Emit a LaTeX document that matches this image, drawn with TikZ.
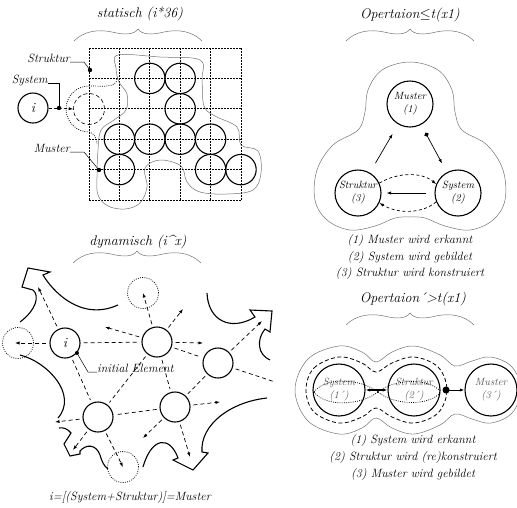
\documentclass[tikz,border=0pt]{standalone}
\usetikzlibrary{arrows.meta}
\begin{document}
\begin{tikzpicture}[x=1pt,y=-1pt,
  >={Latex[length=4.5pt,width=3.2pt]},
  ttl/.style={font=\fontsize{14}{16}\selectfont\itshape},
  lab/.style={font=\fontsize{12}{14}\selectfont\itshape, inner sep=0pt},
  thinline/.style={draw=black!55, line width=0.5pt},
  gridl/.style={dash pattern=on 2pt off 1pt, line width=0.7pt},
  dotl/.style={dash pattern=on 0.9pt off 1.3pt, line width=0.7pt},
  cell/.style={circle, draw, line width=1.1pt, minimum size=30.4pt, inner sep=0pt},
  ring/.style={circle, draw, line width=1.1pt, minimum size=30pt, inner sep=0pt,
    font=\fontsize{14}{16}\selectfont\itshape},
  ghost/.style={circle, draw, dotl, minimum size=31pt, inner sep=0pt},
  dl/.style={dash pattern=on 4pt off 3pt, line width=0.7pt, shorten <=3pt, shorten >=3pt},
  da/.style={dash pattern=on 4pt off 3pt, line width=0.7pt, shorten <=3pt, ->},
  bigl/.style={line width=1.1pt, line join=miter},
  leader/.style={line width=0.5pt},
  opc/.style={circle, draw, line width=1.1pt, minimum size=46pt, inner sep=0pt, align=center,
    font=\fontsize{10.5}{13}\selectfont\itshape},
  opd/.style={circle, draw, line width=1.1pt, minimum size=52pt, inner sep=0pt, align=center,
    font=\fontsize{10.5}{13}\selectfont\itshape, text=black!65},
  overbrace/.pic={\draw[thinline] (-64,12) .. controls (-54,2) and (-40,0) .. (-26,3)
    .. controls (-14,6) and (-4,6) .. (0,0) .. controls (4,6) and (14,6) .. (26,3)
    .. controls (40,0) and (54,2) .. (64,12);}
]
\useasboundingbox (0,0) rectangle (517,507);

% ---------- statisch ----------
\node[ttl] (t1) at (140,14) {statisch (i*36)};
\pic at (138,29) {overbrace};

\foreach \k in {0,...,5} {
  \draw[gridl] ({89+30.4*\k},48) -- ({89+30.4*\k},200);
  \draw[gridl] (89,{48+30.4*\k}) -- (241,{48+30.4*\k});
}
\foreach \cx/\cy [count=\n] in {2/1,3/1,3/2,1/3,2/3,3/3,4/3,1/4,4/4,5/4}
  \node[cell] (m\n) at ({89+30.4*\cx},{48+30.4*\cy}) {};

% pattern outline
\draw[thinline] plot[smooth cycle, tension=0.6] coordinates {(118,55) (160,57) (200,60)
  (202,80) (204,106) (215,116) (237,127) (241,145) (258,151) (261,173) (253,190)
  (227,194) (200,192) (187,182) (181,166) (160,160) (145,168) (147,187) (140,203)
  (125,209) (108,206) (98,195) (97,177) (98,150) (101,130) (114,120) (126,110)
  (127,94) (119,82) (116,68)};

\node[ring] (si) at (33,108) {i};
\node[circle, draw, dash pattern=on 4pt off 2.5pt, line width=0.6pt, minimum size=31pt,
  inner sep=0pt] (ssys) at (89,109) {};
\draw[dotl] (117,79) .. controls (116,88) and (104,86) .. (89,86)
  arc[start angle=270, end angle=90, radius=23]
  .. controls (94,133) and (97,138) .. (97,144);

\coordinate (sdot) at (59,108);
\draw[dash pattern=on 3pt off 2pt, line width=0.7pt] (si) -- (sdot);
\draw[dash pattern=on 3pt off 2pt, line width=0.7pt, ->] (sdot) -- (ssys.west);
\fill (sdot) circle (2.2);

\node[lab, anchor=base east] (lstr) at (70,62) {Struktur};
\coordinate (pstr) at (90,70);
\draw[leader] (lstr.base east) -- (84,62) -- (pstr);
\fill (pstr) circle (2.2);

\node[lab, anchor=base east] (lsys) at (48,83) {System};
\draw[leader] (lsys.base east) -- (59,83) -- (sdot);

\node[lab, anchor=base east] (lmus) at (70,152) {Muster};
\coordinate (pmus) at (99,170);
\draw[leader] (lmus.base east) -- (84,152) -- (pmus);
\fill (pmus) circle (2.2);

% ---------- dynamisch ----------
\node[ttl] (t2) at (138,242) {dynamisch (i\textasciicircum x)};
\pic at (137,251) {overbrace};

\node[ring] (di) at (65,343) {i};
\node[ring] (dA) at (157,342) {};
\node[ring] (dB) at (218,363) {};
\node[ring] (dC) at (98,417) {};
\node[ring] (dD) at (175,407) {};
\node[ghost] (dL) at (18,343) {};
\node[ghost] (dT) at (143,293) {};
\node[ghost] (dBt) at (123,467) {};

\coordinate (e0) at (15,343);
\coordinate (e1) at (38,287);
\coordinate (e2) at (105,327);
\coordinate (e3) at (183,309);
\coordinate (e4) at (203,343);
\coordinate (e5) at (262,321);
\coordinate (e6) at (275,382);
\coordinate (e7) at (220,402);
\coordinate (e8) at (143,438);
\coordinate (e9) at (190,457);
\coordinate (e10) at (55,422);
\coordinate (e11) at (73,450);

\draw[da] (di) -- (e0);
\draw[da] (di) -- (e1);
\draw[dl] (di) -- (dA);
\draw[dl] (di) -- (dC);
\draw[dl] (dA) -- (dC);
\draw[da] (dA) -- (dT.center);
\draw[da] (dA) -- (e2);
\draw[da] (dA) -- (e3);
\draw[da] (dA) -- (e4);
\draw[dl] (dA) -- (dD);
\draw[dl] (dA) -- (dB);
\draw[da] (dB) -- (e5);
\draw[dl, shorten >=0pt] (dB) -- (e6);
\draw[dl] (dB) -- (dD);
\draw[da] (dD) -- (e7);
\draw[da] (dD) -- (e8);
\draw[da] (dD) -- (e9);
\draw[dl] (dD) -- (dC);
\draw[da] (dC) -- (e10);
\draw[da] (dC) -- (e11);
\draw[da] (dC) -- (dBt.center);

\node[lab, anchor=base west] (lie) at (97,372) {initial Element};
\draw[leader] (di.-40) -- (88,372) -- (lie.base west);
\fill (di.-40) circle (2);

% growth arrows
\draw[bigl] (20,322) .. controls (36,310) and (40,296) .. (33,290) -- (22,287) -- (28,268)
  -- (50,272) -- (43,275) .. controls (52,290) and (80,322) .. (118,305);
\draw[bigl] (207,293) .. controls (208,320) and (230,332) .. (255,317) -- (250,310)
  -- (272,311) -- (270,332) -- (265,329) .. controls (256,340) and (258,355) .. (270,360);
\draw[bigl] (267,398) .. controls (230,402) and (200,425) .. (202,452) -- (208,453)
  -- (193,470) -- (173,460) -- (178,458) .. controls (170,436) and (152,436) .. (143,467);
\draw[bigl] (20,355) .. controls (48,362) and (78,395) .. (58,418);
\draw[bigl] (59,428) .. controls (63,427) and (68,429) .. (71,433) -- (64,444) -- (70,456)
  -- (80,454) -- (80,451) .. controls (86,444) and (96,444) .. (100,455)
  .. controls (102,462) and (104,466) .. (108,469);

\node[lab] (formula) at (130,497) {i=[(System+Struktur)]=Muster};

% ---------- Operation 1 ----------
\node[ttl] (t3) at (410,15) {Opertaion$\leq$t(x1)};
\pic at (410,29) {overbrace};

\draw[thinline] plot[smooth cycle, tension=0.6] coordinates {(410,62) (438,70) (452,90)
  (455,112) (462,130) (487,145) (503,170) (505,200) (493,220) (470,230) (445,226)
  (425,218) (410,217) (395,218) (375,226) (350,230) (327,220) (315,200) (317,170)
  (333,145) (358,130) (365,112) (368,90) (382,70)};

\node[opc] (m1) at (410,104) {Muster\\(1)};
\node[opc] (s3) at (358,193) {Struktur\\(3)};
\node[opc] (s2) at (458,193) {System\\(2)};

\draw[line width=0.7pt, ->, shorten <=11pt, shorten >=11pt] (s3) -- (m1);
\draw[line width=0.7pt, {Circle[length=4.5pt]}->, shorten <=9pt, shorten >=10pt] (m1) -- (s2);
\draw[line width=0.7pt, ->, shorten <=8pt, shorten >=5pt] (s2) -- (s3);
\draw[dash pattern=on 3pt off 2.5pt, line width=0.7pt, ->] (s3.25) .. controls (398,172)
  and (422,172) .. (s2.158);
\draw[dash pattern=on 3pt off 2.5pt, line width=0.7pt, ->] (s2.-158) .. controls (422,214)
  and (398,214) .. (s3.-25);

\node[lab] (n11) at (410,240) {(1) Muster wird erkannt};
\node[lab] (n12) at (410,257) {(2) System wird gebildet};
\node[lab] (n13) at (410,273) {(3) Struktur wird konstruiert};

% ---------- Operation 2 ----------
\node[ttl] (t4) at (413,299) {Opertaion´>t(x1)};
\pic at (410,313) {overbrace};

\draw[thinline] plot[smooth cycle, tension=0.6] coordinates {(295,390) (308,359) (339,346)
  (362,352) (376,362) (392,352) (414,346) (440,355) (455,366) (472,361) (491,357)
  (512,367) (521,390) (512,413) (491,423) (472,419) (455,414) (440,425) (414,434)
  (392,428) (376,418) (362,428) (339,434) (308,421)};
\draw[dash pattern=on 4pt off 2.5pt, line width=0.8pt] plot[smooth cycle, tension=0.6]
  coordinates {(306,390) (314,368) (339,357) (362,363) (376,372) (392,363) (414,357)
  (438,367) (447,390) (438,413) (414,423) (392,417) (376,408) (362,417) (339,423)
  (314,412)};

\node[opd] (sy1) at (339,390) {System\\(1´)};
\node[opd] (st2) at (414,390) {Struktur\\(2´)};
\node[opd] (mu3) at (491,390) {Muster\\(3´)};

\draw[dotl] (314,392) .. controls (325,377) and (360,378) .. (378,392);
\draw[dotl] (314,392) .. controls (325,407) and (360,406) .. (378,392);
\draw[dotl] (378,392) .. controls (395,378) and (430,378) .. (441,392);
\draw[dotl] (378,392) .. controls (395,406) and (430,406) .. (441,392);

\draw[line width=1.2pt, <->] (sy1) -- (st2);
\draw[line width=1pt, {Circle[length=7pt]}->, shorten <=2pt] (st2) -- (mu3);

\node[lab] (n21) at (413,440) {(1) System wird erkannt};
\node[lab] (n22) at (413,457) {(2) Struktur wird (re)konstruiert};
\node[lab] (n23) at (413,474) {(3) Muster wird gebildet};
\end{tikzpicture}
\end{document}
